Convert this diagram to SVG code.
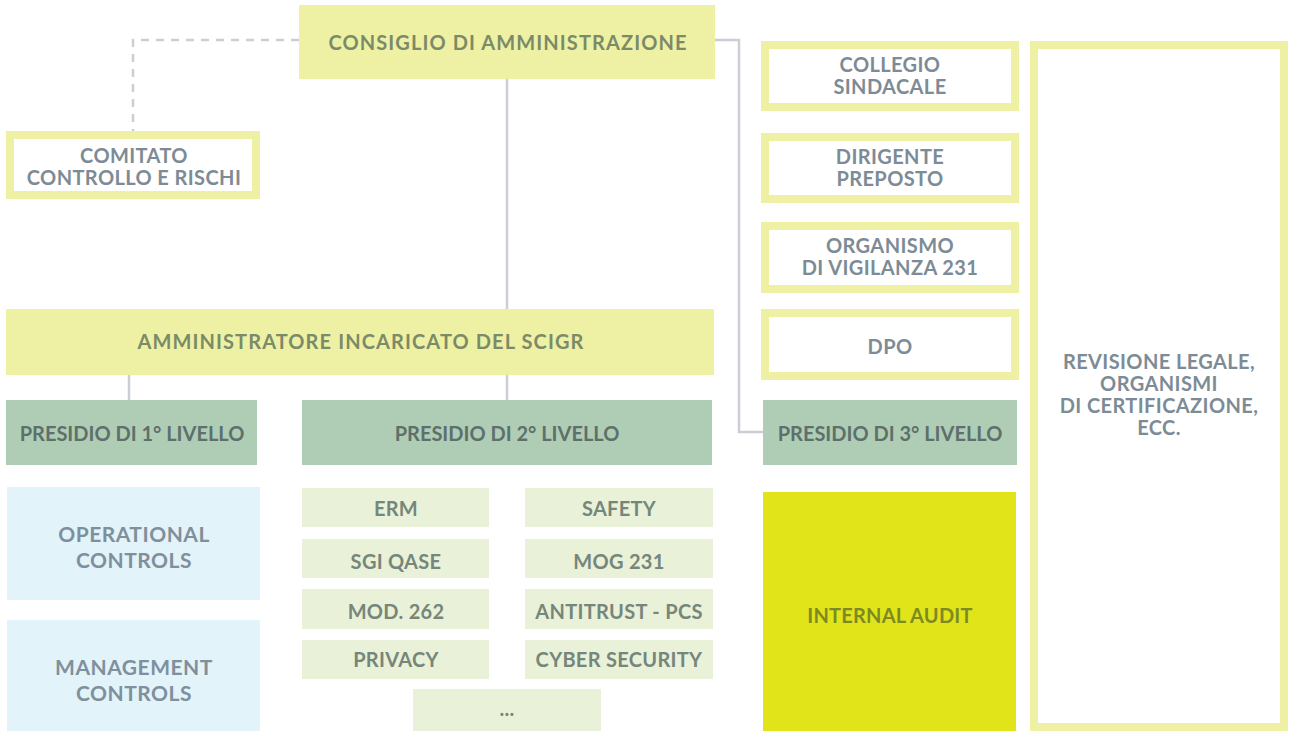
<svg xmlns="http://www.w3.org/2000/svg" width="1289" height="731" viewBox="0 0 1289 731">
<style>
text{font-family:Lato,"Open Sans","DejaVu Sans",sans-serif;font-weight:bold;text-anchor:middle;dominant-baseline:central}
.y{fill:#eef1a3}
.ty{fill:#7b8a68;font-size:20px;letter-spacing:1.1px}
.wb{fill:#fff;stroke:#eef1a3;stroke-width:8}
.tw{fill:#7d8b96;font-size:20px;letter-spacing:0.4px}
.g{fill:#afcdb4}
.tg{fill:#5d706c;font-size:20px}
.b{fill:#e2f3fa}
.tb{fill:#7f8f9c;font-size:21px;letter-spacing:0.5px}
.l{fill:#e9f1d9}
.tl{fill:#76867a;font-size:20px;letter-spacing:0.3px}
.c{fill:none;stroke:#cbced4;stroke-width:2.5}
</style>
<g id="connectors">
<path class="c" d="M299 40 H133 V131" stroke-dasharray="8 7"/>
<path class="c" d="M507 79 V309"/>
<path class="c" d="M715 40 H739 V432 H763"/>
<path class="c" d="M129 375 V400"/>
<path class="c" d="M507 375 V400"/>
</g>
<g id="consiglio"><rect class="y" x="299" y="5" width="416" height="74"/><text class="ty" x="508" y="42">CONSIGLIO DI AMMINISTRAZIONE</text></g>
<g id="comitato"><rect class="wb" x="10" y="135" width="246" height="60"/><text class="tw" x="134" y="155">COMITATO</text><text class="tw" x="134" y="177">CONTROLLO E RISCHI</text></g>
<g id="amministratore"><rect class="y" x="6" y="309" width="708" height="66"/><text class="ty" x="361" y="341">AMMINISTRATORE INCARICATO DEL SCIGR</text></g>
<g id="presidio1"><rect class="g" x="6" y="400" width="251" height="65"/><text class="tg" x="132" y="433">PRESIDIO DI 1° LIVELLO</text></g>
<g id="presidio2"><rect class="g" x="302" y="400" width="410" height="65"/><text class="tg" x="507" y="433">PRESIDIO DI 2° LIVELLO</text></g>
<g id="presidio3"><rect class="g" x="763" y="400" width="254" height="65"/><text class="tg" x="890" y="433">PRESIDIO DI 3° LIVELLO</text></g>
<g id="collegio"><rect class="wb" x="765" y="45" width="250" height="62"/><text class="tw" x="890" y="64">COLLEGIO</text><text class="tw" x="890" y="86">SINDACALE</text></g>
<g id="dirigente"><rect class="wb" x="765" y="137" width="250" height="62"/><text class="tw" x="890" y="156">DIRIGENTE</text><text class="tw" x="890" y="178">PREPOSTO</text></g>
<g id="organismo"><rect class="wb" x="765" y="226" width="250" height="63"/><text class="tw" x="890" y="245">ORGANISMO</text><text class="tw" x="890" y="267">DI VIGILANZA 231</text></g>
<g id="dpo"><rect class="wb" x="765" y="313" width="250" height="63"/><text class="tw" x="890" y="346">DPO</text></g>
<g id="revisione"><rect class="wb" x="1034" y="45" width="250" height="682"/><text class="tw" x="1159" y="361">REVISIONE LEGALE,</text><text class="tw" x="1159" y="383">ORGANISMI</text><text class="tw" x="1159" y="405">DI CERTIFICAZIONE,</text><text class="tw" x="1159" y="427">ECC.</text></g>
<g id="internal-audit"><rect fill="#e2e41a" x="763" y="492" width="253" height="239"/><text fill="#7d8a22" style="font-size:20px;letter-spacing:0.2px" x="890" y="615">INTERNAL AUDIT</text></g>
<g id="operational"><rect class="b" x="7" y="487" width="253" height="113"/><text class="tb" x="134" y="533">OPERATIONAL</text><text class="tb" x="134" y="559">CONTROLS</text></g>
<g id="management"><rect class="b" x="7" y="620" width="253" height="111"/><text class="tb" x="134" y="666">MANAGEMENT</text><text class="tb" x="134" y="692">CONTROLS</text></g>
<g id="erm"><rect class="l" x="302" y="488" width="187" height="39"/><text class="tl" x="396" y="508">ERM</text></g>
<g id="safety"><rect class="l" x="525" y="488" width="188" height="39"/><text class="tl" x="619" y="508">SAFETY</text></g>
<g id="sgi"><rect class="l" x="302" y="539" width="187" height="39"/><text class="tl" x="396" y="561">SGI QASE</text></g>
<g id="mog"><rect class="l" x="525" y="539" width="188" height="39"/><text class="tl" x="619" y="561">MOG 231</text></g>
<g id="mod262"><rect class="l" x="302" y="589" width="187" height="40"/><text class="tl" x="396" y="611">MOD. 262</text></g>
<g id="antitrust"><rect class="l" x="525" y="589" width="188" height="40"/><text class="tl" x="619" y="611">ANTITRUST - PCS</text></g>
<g id="privacy"><rect class="l" x="302" y="640" width="187" height="39"/><text class="tl" x="396" y="659">PRIVACY</text></g>
<g id="cyber"><rect class="l" x="525" y="640" width="188" height="39"/><text class="tl" x="619" y="659">CYBER SECURITY</text></g>
<g id="more"><rect class="l" x="413" y="689" width="188" height="42"/><text class="tl" x="507" y="708">...</text></g>
</svg>
